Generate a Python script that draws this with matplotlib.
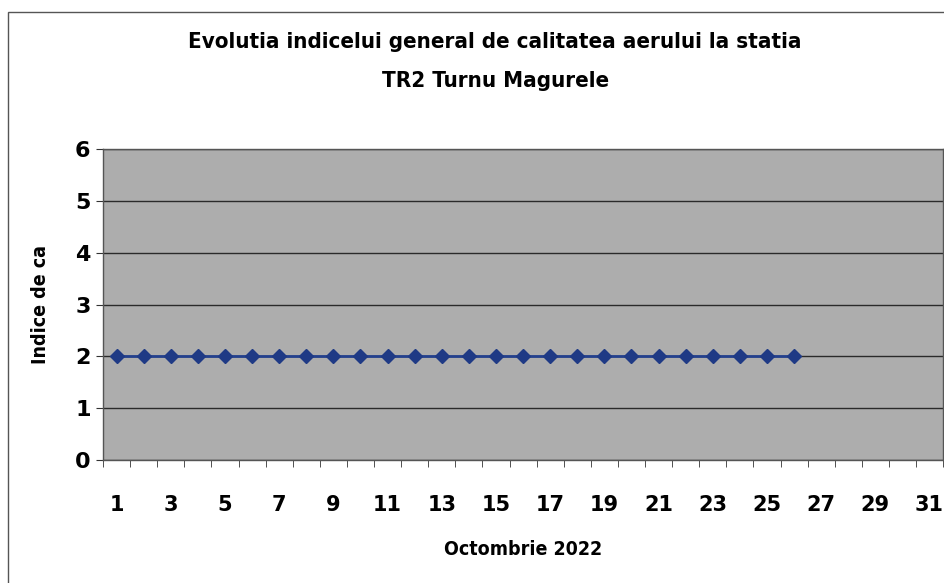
import numpy as np
import matplotlib.pyplot as plt
from matplotlib.patches import Rectangle

# data
days = list(range(1, 32))
measured_days = list(range(1, 27))
index_values = [2] * 26
xtick_labels = [str(d) for d in days[::2]]

title = "Evolutia indicelui general de calitatea aerului la statia\nTR2 Turnu Magurele"
xlabel = "Octombrie 2022"
ylabel = "Indice de ca"

plt.rcParams["font.family"] = ["DejaVu Sans"]
plt.rcParams["font.stretch"] = "condensed"
plt.rcParams["font.weight"] = "bold"

fig = plt.figure(figsize=(9.45, 5.83), dpi=100)
ax = fig.add_axes([0.109, 0.211, 0.889, 0.5334])
ax.set_facecolor("#adadad")

ax.plot(measured_days, index_values, color="#23408e", lw=2,
        marker="D", ms=7, mfc="#1f3a85", mec="#1f3a85", zorder=3)

ax.set_xlim(0.5, 31.5)
ax.set_ylim(0, 6)
ax.set_yticks(range(0, 7))
ax.yaxis.grid(True, color="#2a2a2a", lw=1)
ax.set_axisbelow(True)

ax.set_xticks(days[::2])
ax.set_xticklabels(xtick_labels)
ax.set_xticks(np.arange(0.5, 32, 1), minor=True)
ax.tick_params(axis="x", which="major", length=0, pad=25, labelsize=15)
ax.tick_params(axis="x", which="minor", length=5, color="#333333")
ax.tick_params(axis="y", length=5, color="#333333", labelsize=16, pad=4)
for lab in ax.get_xticklabels() + ax.get_yticklabels():
    lab.set_fontweight("heavy")
    lab.set_fontstretch("normal")

for s in ax.spines.values():
    s.set_color("#555555")
    s.set_linewidth(1)

ax.set_xlabel(xlabel, fontsize=14, fontweight="heavy", labelpad=18)
ax.set_ylabel(ylabel, fontsize=14, fontweight="heavy", labelpad=18)

fig.text(0.524, 0.894, title, ha="center", va="center", fontsize=16,
         fontweight="heavy", linespacing=2.2)

# outer chart border (scan shows only top and left edges)
fig.patches.append(Rectangle((8 / 945, -0.1), 1.2, 1.1 - 12 / 583,
                             transform=fig.transFigure, fill=False,
                             edgecolor="#555555", lw=1))

plt.savefig("out.png", dpi=100)
